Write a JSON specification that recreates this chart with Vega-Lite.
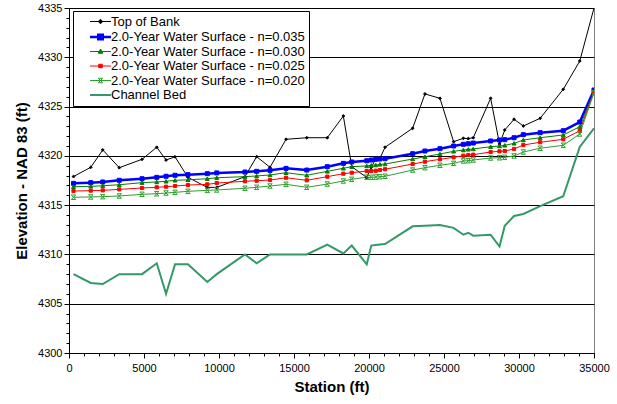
{
"$schema": "https://vega.github.io/schema/vega-lite/v6.json",
"width": 525, "height": 345,
"autosize": {"type": "none"},
"padding": {"left": 69, "top": 8, "right": 23, "bottom": 51},
"background": "white",
"config": {"font": "Liberation Sans", "view": {"stroke": "#808080", "strokeWidth": 1}},
"data": {"values": [
{"station":300,"series":"Top of Bank","elev":4317.9},{"station":1450,"series":"Top of Bank","elev":4318.84},{"station":2250,"series":"Top of Bank","elev":4320.6},{"station":3350,"series":"Top of Bank","elev":4318.8},{"station":4870,"series":"Top of Bank","elev":4319.65},{"station":5850,"series":"Top of Bank","elev":4320.87},{"station":6470,"series":"Top of Bank","elev":4319.58},{"station":7070,"series":"Top of Bank","elev":4319.9},{"station":7930,"series":"Top of Bank","elev":4317.82},{"station":9220,"series":"Top of Bank","elev":4316.8},{"station":9850,"series":"Top of Bank","elev":4316.8},{"station":11730,"series":"Top of Bank","elev":4317.89},{"station":12510,"series":"Top of Bank","elev":4319.92},{"station":13400,"series":"Top of Bank","elev":4318.84},{"station":14470,"series":"Top of Bank","elev":4321.68},{"station":15850,"series":"Top of Bank","elev":4321.84},{"station":17220,"series":"Top of Bank","elev":4321.84},{"station":18290,"series":"Top of Bank","elev":4324.04},{"station":18850,"series":"Top of Bank","elev":4318.9},{"station":19850,"series":"Top of Bank","elev":4317.8},{"station":20150,"series":"Top of Bank","elev":4318.84},{"station":20450,"series":"Top of Bank","elev":4319.68},{"station":20730,"series":"Top of Bank","elev":4319.75},{"station":21070,"series":"Top of Bank","elev":4320.87},{"station":22910,"series":"Top of Bank","elev":4322.8},{"station":23730,"series":"Top of Bank","elev":4326.28},{"station":24730,"series":"Top of Bank","elev":4325.84},{"station":25640,"series":"Top of Bank","elev":4321.44},{"station":26290,"series":"Top of Bank","elev":4321.78},{"station":26620,"series":"Top of Bank","elev":4321.75},{"station":26950,"series":"Top of Bank","elev":4321.84},{"station":28110,"series":"Top of Bank","elev":4325.84},{"station":28700,"series":"Top of Bank","elev":4321.2},{"station":29050,"series":"Top of Bank","elev":4322.62},{"station":29670,"series":"Top of Bank","elev":4323.71},{"station":30290,"series":"Top of Bank","elev":4323.03},{"station":31410,"series":"Top of Bank","elev":4323.81},{"station":32950,"series":"Top of Bank","elev":4326.75},{"station":34050,"series":"Top of Bank","elev":4329.62},{"station":35000,"series":"Top of Bank","elev":4335},
{"station":300,"series":"2.0-Year Water Surface - n=0.035","elev":4317.21},{"station":1450,"series":"2.0-Year Water Surface - n=0.035","elev":4317.28},{"station":2250,"series":"2.0-Year Water Surface - n=0.035","elev":4317.35},{"station":3350,"series":"2.0-Year Water Surface - n=0.035","elev":4317.52},{"station":4870,"series":"2.0-Year Water Surface - n=0.035","elev":4317.68},{"station":5850,"series":"2.0-Year Water Surface - n=0.035","elev":4317.82},{"station":6470,"series":"2.0-Year Water Surface - n=0.035","elev":4317.93},{"station":7070,"series":"2.0-Year Water Surface - n=0.035","elev":4318.03},{"station":7930,"series":"2.0-Year Water Surface - n=0.035","elev":4318.09},{"station":9220,"series":"2.0-Year Water Surface - n=0.035","elev":4318.19},{"station":9850,"series":"2.0-Year Water Surface - n=0.035","elev":4318.27},{"station":11730,"series":"2.0-Year Water Surface - n=0.035","elev":4318.36},{"station":12510,"series":"2.0-Year Water Surface - n=0.035","elev":4318.43},{"station":13400,"series":"2.0-Year Water Surface - n=0.035","elev":4318.53},{"station":14470,"series":"2.0-Year Water Surface - n=0.035","elev":4318.73},{"station":15850,"series":"2.0-Year Water Surface - n=0.035","elev":4318.56},{"station":17220,"series":"2.0-Year Water Surface - n=0.035","elev":4318.9},{"station":18290,"series":"2.0-Year Water Surface - n=0.035","elev":4319.24},{"station":18850,"series":"2.0-Year Water Surface - n=0.035","elev":4319.38},{"station":19850,"series":"2.0-Year Water Surface - n=0.035","elev":4319.5},{"station":20150,"series":"2.0-Year Water Surface - n=0.035","elev":4319.58},{"station":20450,"series":"2.0-Year Water Surface - n=0.035","elev":4319.65},{"station":20730,"series":"2.0-Year Water Surface - n=0.035","elev":4319.68},{"station":21070,"series":"2.0-Year Water Surface - n=0.035","elev":4319.71},{"station":22910,"series":"2.0-Year Water Surface - n=0.035","elev":4320.22},{"station":23730,"series":"2.0-Year Water Surface - n=0.035","elev":4320.49},{"station":24730,"series":"2.0-Year Water Surface - n=0.035","elev":4320.73},{"station":25640,"series":"2.0-Year Water Surface - n=0.035","elev":4321.0},{"station":26290,"series":"2.0-Year Water Surface - n=0.035","elev":4321.17},{"station":26620,"series":"2.0-Year Water Surface - n=0.035","elev":4321.23},{"station":26950,"series":"2.0-Year Water Surface - n=0.035","elev":4321.3},{"station":28110,"series":"2.0-Year Water Surface - n=0.035","elev":4321.51},{"station":28700,"series":"2.0-Year Water Surface - n=0.035","elev":4321.61},{"station":29050,"series":"2.0-Year Water Surface - n=0.035","elev":4321.64},{"station":29670,"series":"2.0-Year Water Surface - n=0.035","elev":4321.84},{"station":30290,"series":"2.0-Year Water Surface - n=0.035","elev":4322.15},{"station":31410,"series":"2.0-Year Water Surface - n=0.035","elev":4322.35},{"station":32950,"series":"2.0-Year Water Surface - n=0.035","elev":4322.55},{"station":34050,"series":"2.0-Year Water Surface - n=0.035","elev":4323.43},{"station":35000,"series":"2.0-Year Water Surface - n=0.035","elev":4326.68},
{"station":300,"series":"2.0-Year Water Surface - n=0.030","elev":4316.87},{"station":1450,"series":"2.0-Year Water Surface - n=0.030","elev":4316.91},{"station":2250,"series":"2.0-Year Water Surface - n=0.030","elev":4316.97},{"station":3350,"series":"2.0-Year Water Surface - n=0.030","elev":4317.07},{"station":4870,"series":"2.0-Year Water Surface - n=0.030","elev":4317.28},{"station":5850,"series":"2.0-Year Water Surface - n=0.030","elev":4317.35},{"station":6470,"series":"2.0-Year Water Surface - n=0.030","elev":4317.42},{"station":7070,"series":"2.0-Year Water Surface - n=0.030","elev":4317.52},{"station":7930,"series":"2.0-Year Water Surface - n=0.030","elev":4317.57},{"station":9220,"series":"2.0-Year Water Surface - n=0.030","elev":4317.68},{"station":9850,"series":"2.0-Year Water Surface - n=0.030","elev":4317.78},{"station":11730,"series":"2.0-Year Water Surface - n=0.030","elev":4317.89},{"station":12510,"series":"2.0-Year Water Surface - n=0.030","elev":4317.96},{"station":13400,"series":"2.0-Year Water Surface - n=0.030","elev":4318.06},{"station":14470,"series":"2.0-Year Water Surface - n=0.030","elev":4318.29},{"station":15850,"series":"2.0-Year Water Surface - n=0.030","elev":4318.03},{"station":17220,"series":"2.0-Year Water Surface - n=0.030","elev":4318.43},{"station":18290,"series":"2.0-Year Water Surface - n=0.030","elev":4318.74},{"station":18850,"series":"2.0-Year Water Surface - n=0.030","elev":4318.9},{"station":19850,"series":"2.0-Year Water Surface - n=0.030","elev":4318.98},{"station":20150,"series":"2.0-Year Water Surface - n=0.030","elev":4319.04},{"station":20450,"series":"2.0-Year Water Surface - n=0.030","elev":4319.07},{"station":20730,"series":"2.0-Year Water Surface - n=0.030","elev":4319.14},{"station":21070,"series":"2.0-Year Water Surface - n=0.030","elev":4319.17},{"station":22910,"series":"2.0-Year Water Surface - n=0.030","elev":4319.68},{"station":23730,"series":"2.0-Year Water Surface - n=0.030","elev":4319.91},{"station":24730,"series":"2.0-Year Water Surface - n=0.030","elev":4320.19},{"station":25640,"series":"2.0-Year Water Surface - n=0.030","elev":4320.46},{"station":26290,"series":"2.0-Year Water Surface - n=0.030","elev":4320.59},{"station":26620,"series":"2.0-Year Water Surface - n=0.030","elev":4320.66},{"station":26950,"series":"2.0-Year Water Surface - n=0.030","elev":4320.7},{"station":28110,"series":"2.0-Year Water Surface - n=0.030","elev":4320.93},{"station":28700,"series":"2.0-Year Water Surface - n=0.030","elev":4321.0},{"station":29050,"series":"2.0-Year Water Surface - n=0.030","elev":4321.07},{"station":29670,"series":"2.0-Year Water Surface - n=0.030","elev":4321.27},{"station":30290,"series":"2.0-Year Water Surface - n=0.030","elev":4321.61},{"station":31410,"series":"2.0-Year Water Surface - n=0.030","elev":4321.84},{"station":32950,"series":"2.0-Year Water Surface - n=0.030","elev":4322.12},{"station":34050,"series":"2.0-Year Water Surface - n=0.030","elev":4322.96},{"station":35000,"series":"2.0-Year Water Surface - n=0.030","elev":4326.5},
{"station":300,"series":"2.0-Year Water Surface - n=0.025","elev":4316.43},{"station":1450,"series":"2.0-Year Water Surface - n=0.025","elev":4316.47},{"station":2250,"series":"2.0-Year Water Surface - n=0.025","elev":4316.5},{"station":3350,"series":"2.0-Year Water Surface - n=0.025","elev":4316.6},{"station":4870,"series":"2.0-Year Water Surface - n=0.025","elev":4316.74},{"station":5850,"series":"2.0-Year Water Surface - n=0.025","elev":4316.81},{"station":6470,"series":"2.0-Year Water Surface - n=0.025","elev":4316.87},{"station":7070,"series":"2.0-Year Water Surface - n=0.025","elev":4316.94},{"station":7930,"series":"2.0-Year Water Surface - n=0.025","elev":4317.04},{"station":9220,"series":"2.0-Year Water Surface - n=0.025","elev":4317.11},{"station":9850,"series":"2.0-Year Water Surface - n=0.025","elev":4317.24},{"station":11730,"series":"2.0-Year Water Surface - n=0.025","elev":4317.42},{"station":12510,"series":"2.0-Year Water Surface - n=0.025","elev":4317.48},{"station":13400,"series":"2.0-Year Water Surface - n=0.025","elev":4317.55},{"station":14470,"series":"2.0-Year Water Surface - n=0.025","elev":4317.78},{"station":15850,"series":"2.0-Year Water Surface - n=0.025","elev":4317.52},{"station":17220,"series":"2.0-Year Water Surface - n=0.025","elev":4317.89},{"station":18290,"series":"2.0-Year Water Surface - n=0.025","elev":4318.19},{"station":18850,"series":"2.0-Year Water Surface - n=0.025","elev":4318.29},{"station":19850,"series":"2.0-Year Water Surface - n=0.025","elev":4318.46},{"station":20150,"series":"2.0-Year Water Surface - n=0.025","elev":4318.46},{"station":20450,"series":"2.0-Year Water Surface - n=0.025","elev":4318.49},{"station":20730,"series":"2.0-Year Water Surface - n=0.025","elev":4318.56},{"station":21070,"series":"2.0-Year Water Surface - n=0.025","elev":4318.64},{"station":22910,"series":"2.0-Year Water Surface - n=0.025","elev":4319.17},{"station":23730,"series":"2.0-Year Water Surface - n=0.025","elev":4319.41},{"station":24730,"series":"2.0-Year Water Surface - n=0.025","elev":4319.65},{"station":25640,"series":"2.0-Year Water Surface - n=0.025","elev":4319.85},{"station":26290,"series":"2.0-Year Water Surface - n=0.025","elev":4320.02},{"station":26620,"series":"2.0-Year Water Surface - n=0.025","elev":4320.09},{"station":26950,"series":"2.0-Year Water Surface - n=0.025","elev":4320.12},{"station":28110,"series":"2.0-Year Water Surface - n=0.025","elev":4320.39},{"station":28700,"series":"2.0-Year Water Surface - n=0.025","elev":4320.46},{"station":29050,"series":"2.0-Year Water Surface - n=0.025","elev":4320.49},{"station":29670,"series":"2.0-Year Water Surface - n=0.025","elev":4320.7},{"station":30290,"series":"2.0-Year Water Surface - n=0.025","elev":4321.1},{"station":31410,"series":"2.0-Year Water Surface - n=0.025","elev":4321.38},{"station":32950,"series":"2.0-Year Water Surface - n=0.025","elev":4321.68},{"station":34050,"series":"2.0-Year Water Surface - n=0.025","elev":4322.55},{"station":35000,"series":"2.0-Year Water Surface - n=0.025","elev":4326.5},
{"station":300,"series":"2.0-Year Water Surface - n=0.020","elev":4315.8},{"station":1450,"series":"2.0-Year Water Surface - n=0.020","elev":4315.83},{"station":2250,"series":"2.0-Year Water Surface - n=0.020","elev":4315.86},{"station":3350,"series":"2.0-Year Water Surface - n=0.020","elev":4315.93},{"station":4870,"series":"2.0-Year Water Surface - n=0.020","elev":4316.1},{"station":5850,"series":"2.0-Year Water Surface - n=0.020","elev":4316.16},{"station":6470,"series":"2.0-Year Water Surface - n=0.020","elev":4316.23},{"station":7070,"series":"2.0-Year Water Surface - n=0.020","elev":4316.3},{"station":7930,"series":"2.0-Year Water Surface - n=0.020","elev":4316.4},{"station":9220,"series":"2.0-Year Water Surface - n=0.020","elev":4316.5},{"station":9850,"series":"2.0-Year Water Surface - n=0.020","elev":4316.54},{"station":11730,"series":"2.0-Year Water Surface - n=0.020","elev":4316.71},{"station":12510,"series":"2.0-Year Water Surface - n=0.020","elev":4316.81},{"station":13400,"series":"2.0-Year Water Surface - n=0.020","elev":4316.94},{"station":14470,"series":"2.0-Year Water Surface - n=0.020","elev":4317.11},{"station":15850,"series":"2.0-Year Water Surface - n=0.020","elev":4316.81},{"station":17220,"series":"2.0-Year Water Surface - n=0.020","elev":4317.14},{"station":18290,"series":"2.0-Year Water Surface - n=0.020","elev":4317.45},{"station":18850,"series":"2.0-Year Water Surface - n=0.020","elev":4317.62},{"station":19850,"series":"2.0-Year Water Surface - n=0.020","elev":4317.84},{"station":20150,"series":"2.0-Year Water Surface - n=0.020","elev":4317.82},{"station":20450,"series":"2.0-Year Water Surface - n=0.020","elev":4317.85},{"station":20730,"series":"2.0-Year Water Surface - n=0.020","elev":4317.89},{"station":21070,"series":"2.0-Year Water Surface - n=0.020","elev":4317.93},{"station":22910,"series":"2.0-Year Water Surface - n=0.020","elev":4318.56},{"station":23730,"series":"2.0-Year Water Surface - n=0.020","elev":4318.8},{"station":24730,"series":"2.0-Year Water Surface - n=0.020","elev":4319.04},{"station":25640,"series":"2.0-Year Water Surface - n=0.020","elev":4319.24},{"station":26290,"series":"2.0-Year Water Surface - n=0.020","elev":4319.48},{"station":26620,"series":"2.0-Year Water Surface - n=0.020","elev":4319.51},{"station":26950,"series":"2.0-Year Water Surface - n=0.020","elev":4319.58},{"station":28110,"series":"2.0-Year Water Surface - n=0.020","elev":4319.78},{"station":28700,"series":"2.0-Year Water Surface - n=0.020","elev":4319.81},{"station":29050,"series":"2.0-Year Water Surface - n=0.020","elev":4319.85},{"station":29670,"series":"2.0-Year Water Surface - n=0.020","elev":4319.99},{"station":30290,"series":"2.0-Year Water Surface - n=0.020","elev":4320.39},{"station":31410,"series":"2.0-Year Water Surface - n=0.020","elev":4320.77},{"station":32950,"series":"2.0-Year Water Surface - n=0.020","elev":4321.07},{"station":34050,"series":"2.0-Year Water Surface - n=0.020","elev":4322.22},{"station":35000,"series":"2.0-Year Water Surface - n=0.020","elev":4326.4},
{"station":300,"series":"Channel Bed","elev":4308.0},{"station":1450,"series":"Channel Bed","elev":4307.1},{"station":2250,"series":"Channel Bed","elev":4307.0},{"station":3350,"series":"Channel Bed","elev":4308.0},{"station":4870,"series":"Channel Bed","elev":4308.0},{"station":5850,"series":"Channel Bed","elev":4309.1},{"station":6470,"series":"Channel Bed","elev":4306.0},{"station":7070,"series":"Channel Bed","elev":4309.0},{"station":7930,"series":"Channel Bed","elev":4309.0},{"station":9220,"series":"Channel Bed","elev":4307.2},{"station":9850,"series":"Channel Bed","elev":4308.0},{"station":11730,"series":"Channel Bed","elev":4310.0},{"station":12510,"series":"Channel Bed","elev":4309.1},{"station":13400,"series":"Channel Bed","elev":4310.0},{"station":14470,"series":"Channel Bed","elev":4310.0},{"station":15850,"series":"Channel Bed","elev":4310.0},{"station":17220,"series":"Channel Bed","elev":4311.0},{"station":18290,"series":"Channel Bed","elev":4310.1},{"station":18850,"series":"Channel Bed","elev":4310.9},{"station":19850,"series":"Channel Bed","elev":4309.0},{"station":20150,"series":"Channel Bed","elev":4310.9},{"station":20450,"series":"Channel Bed","elev":4310.95},{"station":20730,"series":"Channel Bed","elev":4311.0},{"station":21070,"series":"Channel Bed","elev":4311.05},{"station":22910,"series":"Channel Bed","elev":4312.85},{"station":23730,"series":"Channel Bed","elev":4312.92},{"station":24730,"series":"Channel Bed","elev":4312.98},{"station":25640,"series":"Channel Bed","elev":4312.7},{"station":26290,"series":"Channel Bed","elev":4312.0},{"station":26620,"series":"Channel Bed","elev":4312.2},{"station":26950,"series":"Channel Bed","elev":4311.9},{"station":28110,"series":"Channel Bed","elev":4312.0},{"station":28700,"series":"Channel Bed","elev":4310.8},{"station":29050,"series":"Channel Bed","elev":4312.9},{"station":29670,"series":"Channel Bed","elev":4313.9},{"station":30290,"series":"Channel Bed","elev":4314.1},{"station":31410,"series":"Channel Bed","elev":4314.9},{"station":32950,"series":"Channel Bed","elev":4315.9},{"station":34050,"series":"Channel Bed","elev":4320.9},{"station":35000,"series":"Channel Bed","elev":4322.8}
]},
"encoding": {
  "x": {"field": "station", "type": "quantitative", "scale": {"domain": [0, 35000], "nice": false},
    "axis": {"values": [0,1000,2000,3000,4000,5000,6000,7000,8000,9000,10000,11000,12000,13000,14000,15000,16000,17000,18000,19000,20000,21000,22000,23000,24000,25000,26000,27000,28000,29000,30000,31000,32000,33000,34000,35000],
      "format": "d", "labelExpr": "datum.value % 5000 === 0 ? datum.label : ''", "labelOverlap": false, "labelFlush": false,
      "grid": false, "domainColor": "black", "tickColor": "black",
      "tickSize": {"condition": {"test": "datum.value % 5000 === 0", "value": 5}, "value": 3},
      "labelFontSize": 11, "labelColor": "black", "labelPadding": 4,
      "title": "Station (ft)", "titleFontSize": 15, "titleFontWeight": "bold", "titleColor": "black", "titlePadding": 6}},
  "y": {"field": "elev", "type": "quantitative", "scale": {"domain": [4300, 4335], "nice": false, "zero": false},
    "axis": {"values": [4300,4301,4302,4303,4304,4305,4306,4307,4308,4309,4310,4311,4312,4313,4314,4315,4316,4317,4318,4319,4320,4321,4322,4323,4324,4325,4326,4327,4328,4329,4330,4331,4332,4333,4334,4335],
      "format": "d", "labelExpr": "datum.value % 5 === 0 ? datum.label : ''", "labelOverlap": false, "labelFlush": false,
      "grid": true, "gridColor": "black", "gridWidth": 1,
      "gridOpacity": {"condition": {"test": "datum.value % 5 === 0", "value": 1}, "value": 0},
      "domainColor": "black", "tickColor": "black",
      "tickSize": {"condition": {"test": "datum.value % 5 === 0", "value": 5}, "value": 3},
      "labelFontSize": 11, "labelColor": "black", "labelPadding": 2,
      "title": "Elevation - NAD 83 (ft)", "titleFontSize": 15, "titleFontWeight": "bold", "titleColor": "black", "titlePadding": 8}},
  "color": {"field": "series", "type": "nominal",
    "scale": {"domain": ["Top of Bank", "2.0-Year Water Surface - n=0.035", "2.0-Year Water Surface - n=0.030", "2.0-Year Water Surface - n=0.025", "2.0-Year Water Surface - n=0.020", "Channel Bed"],
      "range": ["#000000", "#0000FF", "#008000", "#FF0000", "#2E9E2E", "#339966"]},
    "legend": {"title": null, "orient": "none", "legendX": 4, "legendY": 3,
      "fillColor": "white", "strokeColor": "black", "padding": 4,
      "labelFontSize": 13, "labelColor": "black", "labelLimit": 400, "labelOffset": 4,
      "symbolSize": 100, "symbolOffset": 17, "rowPadding": 0.5,
      "encode": {"symbols": {"update": {
        "shape": {"signal": "datum.value === 'Top of Bank' ? 'M-2.1,0H2.1M0,-0.45L0.45,0L0,0.45L-0.45,0Z' : datum.value === '2.0-Year Water Surface - n=0.035' ? 'M-2.1,0H2.1M-0.45,-0.45H0.45V0.45H-0.45Z' : datum.value === '2.0-Year Water Surface - n=0.030' ? 'M-2.1,0H2.1M0,-0.5L0.45,0.35H-0.45Z' : datum.value === '2.0-Year Water Surface - n=0.025' ? 'M-2.1,0H2.1M-0.35,-0.35H0.35V0.35H-0.35Z' : datum.value === '2.0-Year Water Surface - n=0.020' ? 'M-2.1,0H2.1M-0.45,-0.45L0.45,0.45M-0.45,0.45L0.45,-0.45M-0.45,-0.45H0.45M-0.45,0.45H0.45' : 'M-2.1,0H2.1'"},
        "strokeWidth": {"signal": "datum.value === '2.0-Year Water Surface - n=0.035' ? 2.5 : datum.value === 'Channel Bed' ? 2 : 1"},
        "fill": {"signal": "scale('color', datum.value)"},
        "stroke": {"signal": "scale('color', datum.value)"},
        "opacity": {"value": 1}
      }}}}}
},
"layer": [
  {"mark": {"type": "line", "clip": true},
   "encoding": {"strokeWidth": {"condition": [{"test": "datum.series === '2.0-Year Water Surface - n=0.035'", "value": 2.5}, {"test": "datum.series === 'Channel Bed'", "value": 2}], "value": 1}}},
  {"transform": [{"filter": "datum.series !== 'Channel Bed'"}],
   "mark": {"type": "point", "filled": true, "clip": true, "opacity": 1, "strokeWidth": 1},
   "encoding": {
     "shape": {"field": "series", "type": "nominal", "legend": null,
       "scale": {"domain": ["Top of Bank", "2.0-Year Water Surface - n=0.035", "2.0-Year Water Surface - n=0.030", "2.0-Year Water Surface - n=0.025", "2.0-Year Water Surface - n=0.020"],
         "range": ["diamond", "square", "triangle-up", "square", "M-1,-1L1,1M-1,1L1,-1M-1,-1H1M-1,1H1"]}},
     "stroke": {"field": "series", "type": "nominal", "legend": null,
       "scale": {"domain": ["Top of Bank", "2.0-Year Water Surface - n=0.035", "2.0-Year Water Surface - n=0.030", "2.0-Year Water Surface - n=0.025", "2.0-Year Water Surface - n=0.020"],
         "range": ["#000000", "#0000FF", "#008000", "#FF0000", "#2E9E2E"]}},
     "size": {"condition": [{"test": "datum.series === 'Top of Bank'", "value": 8}, {"test": "datum.series === '2.0-Year Water Surface - n=0.025'", "value": 10}, {"test": "datum.series === '2.0-Year Water Surface - n=0.020'", "value": 20}], "value": 16}
   }}
]
}
